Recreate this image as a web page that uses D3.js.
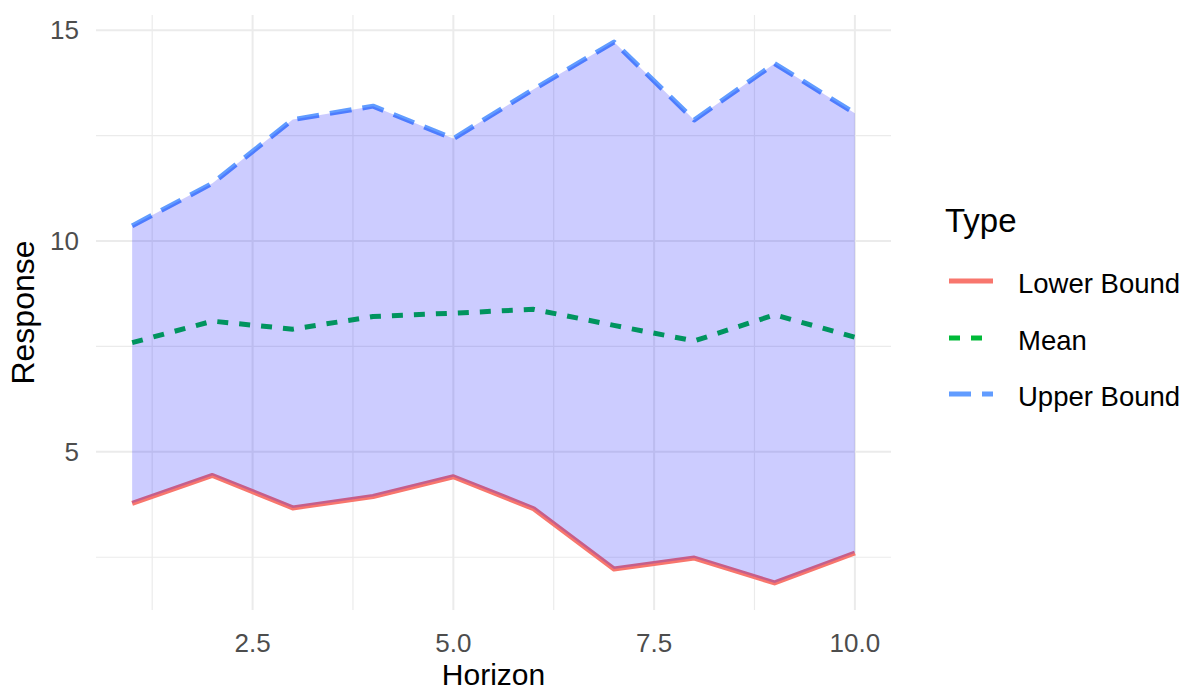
<!DOCTYPE html>
<html><head><meta charset="utf-8">
<script src="https://cdn.jsdelivr.net/npm/d3@7"></script>
<style>body{margin:0;background:#fff;} svg{display:block;}</style>
</head><body>
<svg id="c" width="1185" height="692"></svg>
<script>
const horizon = [1,2,3,4,5,6,7,8,9,10];
const lowerBound = [3.78,4.44,3.67,3.94,4.41,3.65,2.22,2.48,1.89,2.60];
const meanVals  = [7.59,8.10,7.91,8.21,8.29,8.38,8.00,7.63,8.25,7.72];
const upperBound = [10.36,11.37,12.88,13.20,12.43,13.60,14.72,12.87,14.21,13.03];
const xTicks = [2.5,5.0,7.5,10.0];
const xMinor = [1.25,3.75,6.25,8.75];
const yTicks = [5,10,15];
const yMinor = [2.5,7.5,12.5];
const types = ["Lower Bound","Mean","Upper Bound"];
const colors = ["#F8766D","#00BA38","#619CFF"];
const dashes = [null,"11,11","22,11"];

const svg = d3.select("#c");
const L=96, R=891, T=15, B=610;
const allY = lowerBound.concat(upperBound);
const ymin=d3.min(allY), ymax=d3.max(allY), yr=ymax-ymin;
const x = d3.scaleLinear().domain([1-0.45,10+0.45]).range([L,R]);
const y = d3.scaleLinear().domain([ymin-0.05*yr, ymax+0.05*yr]).range([B,T]);

const g = svg.append("g");
// grid
g.selectAll(".ym").data(yMinor).enter().append("line")
 .attr("x1",L).attr("x2",R).attr("y1",d=>y(d)).attr("y2",d=>y(d))
 .attr("stroke","#EBEBEB").attr("stroke-width",1.2);
g.selectAll(".xm").data(xMinor).enter().append("line")
 .attr("y1",T).attr("y2",B).attr("x1",d=>x(d)).attr("x2",d=>x(d))
 .attr("stroke","#EBEBEB").attr("stroke-width",1.2);
g.selectAll(".yM").data(yTicks).enter().append("line")
 .attr("x1",L).attr("x2",R).attr("y1",d=>y(d)).attr("y2",d=>y(d))
 .attr("stroke","#EBEBEB").attr("stroke-width",2);
g.selectAll(".xM").data(xTicks).enter().append("line")
 .attr("y1",T).attr("y2",B).attr("x1",d=>x(d)).attr("x2",d=>x(d))
 .attr("stroke","#EBEBEB").attr("stroke-width",2);

// lines
const series=[lowerBound,meanVals,upperBound];
const line=d3.line().x((d,i)=>x(horizon[i])).y(d=>y(d));
series.forEach((s,k)=>{
  const p=g.append("path").attr("d",line(s)).attr("fill","none")
   .attr("stroke",colors[k]).attr("stroke-width",5).attr("stroke-linejoin","round");
  if(dashes[k]) p.attr("stroke-dasharray",dashes[k]);
});
// ribbon on top
const area=d3.area().x((d,i)=>x(horizon[i])).y0((d,i)=>y(lowerBound[i])).y1((d,i)=>y(upperBound[i]));
g.append("path").attr("d",area(horizon)).attr("fill","blue").attr("fill-opacity",0.2);

// axes text
const font="'Liberation Sans', Arial, sans-serif";
svg.selectAll(".xt").data(xTicks).enter().append("text")
 .attr("x",d=>x(d)).attr("y",652).attr("text-anchor","middle")
 .attr("font-family",font).attr("font-size",26).attr("fill","#4D4D4D")
 .text(d=>d3.format(".1f")(d));
svg.selectAll(".yt").data(yTicks).enter().append("text")
 .attr("x",79).attr("y",d=>y(d)+9).attr("text-anchor","end")
 .attr("font-family",font).attr("font-size",26).attr("fill","#4D4D4D")
 .text(d=>d);
svg.append("text").attr("x",(L+R)/2).attr("y",685).attr("text-anchor","middle")
 .attr("font-family",font).attr("font-size",30).attr("fill","#000").text("Horizon");
svg.append("text").attr("transform",`translate(34,${(T+B)/2}) rotate(-90)`).attr("text-anchor","middle")
 .attr("font-family",font).attr("font-size",32).attr("fill","#000").text("Response");

// legend
svg.append("text").attr("x",945).attr("y",232).attr("font-family",font).attr("font-size",33)
 .attr("fill","#000").text("Type");
const ly=[281,338,394];
types.forEach((t,k)=>{
  const l=svg.append("line").attr("x1",949).attr("x2",993).attr("y1",ly[k]).attr("y2",ly[k])
   .attr("stroke",colors[k]).attr("stroke-width",5);
  if(dashes[k]) l.attr("stroke-dasharray",dashes[k]);
  svg.append("text").attr("x",1018).attr("y",ly[k]+12).attr("font-family",font).attr("font-size",27.5)
   .attr("fill","#000").text(t);
});
</script></body></html>
